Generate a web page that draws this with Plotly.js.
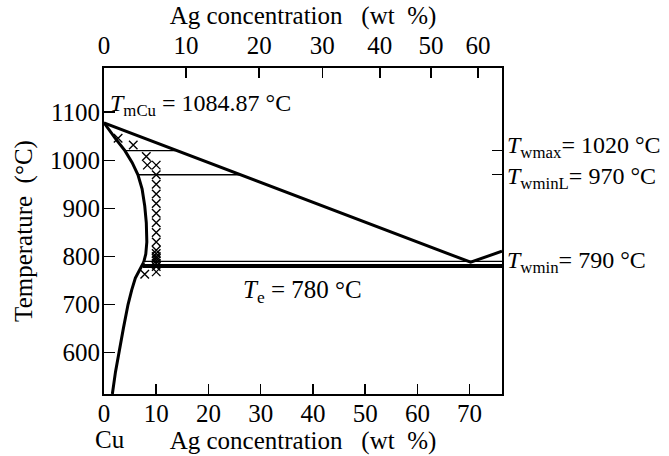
<!DOCTYPE html>
<html>
<head>
<meta charset="utf-8">
<script src="https://cdn.plot.ly/plotly-3.0.1.min.js"></script>
<style>html,body{margin:0;padding:0;background:#fff;}</style>
</head>
<body>
<div id="chart" style="width:669px;height:456px;"></div>
<script>
// ---- data (wt% Ag, temperature in °C) ----
const liquidusWt = [0, 70.2, 76.2];
const liquidusT  = [1078, 788, 811];

const solidusWt = [0, 1.0, 2.2, 4.0, 5.4, 6.5, 7.3, 7.8, 8.1, 8.2, 8.0, 7.6];
const solidusT  = [1078, 1062, 1045, 1020, 995, 970, 940, 905, 870, 830, 805, 788];

const solvusWt = [7.6, 7.0, 6.0, 5.3, 4.6, 3.7, 2.9, 2.2, 1.6];
const solvusT  = [788, 775, 755, 730, 700, 650, 602, 560, 514];

const tieHighWt = [4.0, 13.7];   const tieHighT = [1020, 1020];
const tieLowWt  = [6.5, 25.9];   const tieLowT  = [970, 970];
const line790Wt = [7.6, 76.2];   const line790T = [790, 790];
const eutecticWt = [7.4, 76.2];  const eutecticT = [780, 780];

const crossWt = [2.7, 5.6, 8.1, 8.3,
                 10, 10, 10, 10, 10, 10, 10, 10, 10, 10, 10, 10, 10, 10, 10, 10, 10,
                 7.8];
const crossT  = [1046, 1032, 1008, 990,
                 990, 970, 950, 930, 910, 890, 870, 850, 830, 813, 806, 800, 796, 791, 786, 779, 768,
                 763];

const bottomTicks = [0, 10, 20, 30, 40, 50, 60, 70];
const topTickLabels = ['0', '10', '20', '30', '40', '50', '60'];
const topTickPos = [0, 15.7, 29.7, 41.8, 52.8, 62.6, 71.6];
const yTicks = [600, 700, 800, 900, 1000, 1100];
const rightTicks = [1020, 970];

const xRange = [0, 76.2];
const yRange = [514, 1192];

const FONT = "'Liberation Serif', 'DejaVu Serif', serif";
const FS = 25;   // axis text
const FA = 24;   // annotation text

function line(x, y, w) {
  return {x: x, y: y, mode: 'lines', type: 'scatter', hoverinfo: 'skip',
          line: {color: '#000', width: w}};
}

const traces = [
  line(liquidusWt, liquidusT, 3),
  line(solidusWt, solidusT, 3),
  line(solvusWt, solvusT, 3),
  line(tieHighWt, tieHighT, 1.3),
  line(tieLowWt, tieLowT, 1.3),
  line(line790Wt, line790T, 1.3),
  line(eutecticWt, eutecticT, 4),
  {x: crossWt, y: crossT, mode: 'markers', type: 'scatter', hoverinfo: 'skip',
   marker: {symbol: 'x-thin-open', size: 8.5, color: '#000', line: {color: '#000', width: 1.4}}},
  {x: [null], y: [null], xaxis: 'x2', yaxis: 'y2', mode: 'markers', type: 'scatter', hoverinfo: 'skip'}
];

const axisCommon = {
  showgrid: false, zeroline: false, showline: true, linecolor: '#000', linewidth: 2,
  ticks: 'inside', tickcolor: '#000', tickwidth: 1.5,
  tickfont: {family: FONT, size: FS, color: '#000'}
};

const layout = {
  width: 669, height: 456,
  margin: {l: 104, r: 167, t: 68, b: 62, pad: 0},
  paper_bgcolor: '#fff', plot_bgcolor: '#fff',
  showlegend: false,
  font: {family: FONT, size: FS, color: '#000'},
  xaxis: Object.assign({}, axisCommon, {
    range: xRange, tickmode: 'array', tickvals: bottomTicks, ticklen: 10, ticklabelstandoff: -4,
    title: {text: 'Ag concentration\u00A0\u00A0\u00A0(wt\u00A0\u00A0%)', font: {family: FONT, size: FS}, standoff: 3}
  }),
  xaxis2: Object.assign({}, axisCommon, {
    overlaying: 'x', side: 'top', anchor: 'y', range: xRange,
    tickmode: 'array', tickvals: topTickPos, ticktext: topTickLabels, ticklen: 10, ticklabelstandoff: 2,
    title: {text: 'Ag concentration\u00A0\u00A0\u00A0(wt\u00A0\u00A0%)', font: {family: FONT, size: FS}, standoff: 0}
  }),
  yaxis: Object.assign({}, axisCommon, {
    range: yRange, tickmode: 'array', tickvals: yTicks, ticklen: 11, ticklabelstandoff: -3,
    title: {text: 'Temperature\u00A0\u00A0(°C)', font: {family: FONT, size: FS}, standoff: 10}
  }),
  yaxis2: Object.assign({}, axisCommon, {
    overlaying: 'y', side: 'right', anchor: 'x', range: yRange,
    tickmode: 'array', tickvals: rightTicks, ticklen: 10, showticklabels: false
  }),
  annotations: [
    {x: 0.8, y: 1115, xref: 'x', yref: 'y', xanchor: 'left', yanchor: 'middle', showarrow: false,
     text: '<i>T</i><sub>mCu</sub> = 1084.87 °C', font: {family: FONT, size: FA, color: '#000'}},
    {x: 1.008, y: 1027, xref: 'paper', yref: 'y', xanchor: 'left', yanchor: 'middle', showarrow: false,
     text: '<i>T</i><sub>wmax</sub>= 1020 °C', font: {family: FONT, size: FA, color: '#000'}},
    {x: 1.008, y: 963, xref: 'paper', yref: 'y', xanchor: 'left', yanchor: 'middle', showarrow: false,
     text: '<i>T</i><sub>wminL</sub>= 970 °C', font: {family: FONT, size: FA, color: '#000'}},
    {x: 1.008, y: 789, xref: 'paper', yref: 'y', xanchor: 'left', yanchor: 'middle', showarrow: false,
     text: '<i>T</i><sub>wmin</sub>= 790 °C', font: {family: FONT, size: FA, color: '#000'}},
    {x: 26.3, y: 728, xref: 'x', yref: 'y', xanchor: 'left', yanchor: 'middle', showarrow: false,
     text: '<i>T</i><sub>e</sub> = 780 °C', font: {family: FONT, size: FS, color: '#000'}},
    {x: 0.015, y: -0.141, xref: 'paper', yref: 'paper', xanchor: 'center', yanchor: 'middle', showarrow: false,
     text: 'Cu', font: {family: FONT, size: FS, color: '#000'}}
  ]
};

Plotly.newPlot('chart', traces, layout, {displayModeBar: false, staticPlot: true});
</script>
</body>
</html>
